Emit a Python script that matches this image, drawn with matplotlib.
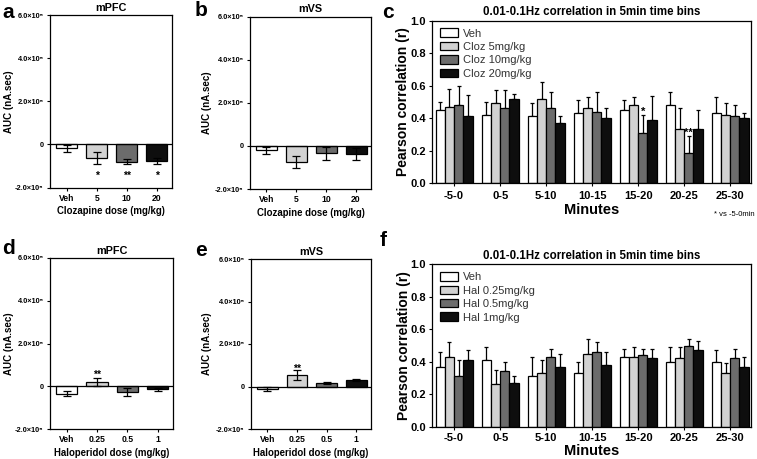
import matplotlib
matplotlib.use("Agg")
import matplotlib.pyplot as plt
import matplotlib.transforms as mtransforms
import numpy as np

# ---- data (AUC values in units of 1e5 nA.sec) ----
cloz_doses = ["Veh", "5", "10", "20"]
hal_doses = ["Veh", "0.25", "0.5", "1"]

mpfc_cloz = [-0.19, -0.64, -0.80, -0.77]
mpfc_cloz_err = [0.15, 0.28, 0.13, 0.16]
mvs_cloz = [-0.21, -0.73, -0.34, -0.37]
mvs_cloz_err = [0.15, 0.28, 0.31, 0.29]

mpfc_hal = [-0.34, 0.20, -0.27, -0.15]
mpfc_hal_err = [0.12, 0.18, 0.20, 0.07]
mvs_hal = [-0.12, 0.54, 0.17, 0.30]
mvs_hal_err = [0.08, 0.25, 0.05, 0.05]

auc_ticks = [-2, 0, 2, 4, 6]
auc_ticklabels = ["-2.0\u00d710\u2075", "0", "2.0\u00d710\u2075", "4.0\u00d710\u2075", "6.0\u00d710\u2075"]

# ---- correlation in 5 min bins ----
time_bins = ["-5-0", "0-5", "5-10", "10-15", "15-20", "20-25", "25-30"]

cloz_labels = ["Veh", "Cloz 5mg/kg", "Cloz 10mg/kg", "Cloz 20mg/kg"]
cloz_corr = [
    [0.45, 0.42, 0.41, 0.43, 0.45, 0.48, 0.43],
    [0.47, 0.49, 0.52, 0.46, 0.48, 0.33, 0.42],
    [0.48, 0.46, 0.46, 0.44, 0.31, 0.185, 0.41],
    [0.41, 0.52, 0.37, 0.40, 0.39, 0.33, 0.40],
]
cloz_corr_err = [
    [0.05, 0.08, 0.08, 0.08, 0.06, 0.08, 0.10],
    [0.11, 0.08, 0.10, 0.07, 0.05, 0.13, 0.07],
    [0.12, 0.11, 0.10, 0.12, 0.11, 0.105, 0.07],
    [0.13, 0.03, 0.04, 0.06, 0.145, 0.12, 0.03],
]

hal_labels = ["Veh", "Hal 0.25mg/kg", "Hal 0.5mg/kg", "Hal 1mg/kg"]
hal_corr = [
    [0.37, 0.41, 0.31, 0.33, 0.43, 0.40, 0.40],
    [0.43, 0.26, 0.33, 0.45, 0.43, 0.42, 0.33],
    [0.31, 0.34, 0.43, 0.46, 0.44, 0.50, 0.42],
    [0.41, 0.27, 0.37, 0.38, 0.42, 0.47, 0.37],
]
hal_corr_err = [
    [0.09, 0.08, 0.12, 0.07, 0.05, 0.09, 0.07],
    [0.09, 0.09, 0.08, 0.09, 0.06, 0.07, 0.06],
    [0.10, 0.06, 0.05, 0.06, 0.04, 0.04, 0.06],
    [0.06, 0.04, 0.08, 0.08, 0.06, 0.06, 0.06],
]

colors = ["white", "#d2d2d2", "#6c6c6c", "#0e0e0e"]

plt.rcParams["font.family"] = ["Liberation Sans", "DejaVu Sans"]
plt.rcParams["font.weight"] = "bold"
plt.rcParams["axes.labelweight"] = "bold"

W, H = 757, 459
fig = plt.figure(figsize=(W / 100, H / 100), dpi=100)


def add_ax(l, t, r, b):
    return fig.add_axes([l / W, 1 - b / H, (r - l) / W, (b - t) / H])


def place_ylabel(ax, px):
    tr = mtransforms.blended_transform_factory(fig.transFigure, ax.transAxes)
    ax.yaxis.set_label_coords(px / W, 0.5, transform=tr)


def style(ax, lw=0.9):
    for s in ax.spines.values():
        s.set_linewidth(lw)
    ax.tick_params(direction="out", length=2.5, width=0.8, pad=2)


def auc_panel(ax, doses, vals, errs, title, xlabel, ylab_x):
    x = np.arange(len(doses))
    ax.bar(x, vals, width=0.7, color=colors, edgecolor="black", linewidth=0.9,
           yerr=errs, capsize=3, error_kw=dict(elinewidth=0.9, capthick=0.9), zorder=2)
    ax.axhline(0, color="black", lw=0.9, zorder=3)
    ax.set_xlim(-0.55, 3.5)
    ax.set_ylim(-2, 6)
    ax.set_yticks(auc_ticks)
    ax.set_yticklabels(auc_ticklabels, fontsize=5.3)
    ax.set_xticks(x)
    ax.set_xticklabels(doses, fontsize=6.2)
    ax.set_title(title, fontsize=7.8, fontweight="bold", pad=3)
    ax.set_xlabel(xlabel, fontsize=6.9, labelpad=2.5)
    ax.set_ylabel("AUC (nA.sec)", fontsize=7)
    place_ylabel(ax, ylab_x)
    style(ax)


def corr_panel(ax, labels, vals, errs, ylab_x):
    x = np.arange(len(time_bins))
    w = 0.2
    for i in range(4):
        xi = x + (i - 1.5) * w
        ax.bar(xi, vals[i], width=w, color=colors[i], edgecolor="black", linewidth=0.9,
               label=labels[i], zorder=2)
        ax.errorbar(xi, vals[i], yerr=[np.zeros(len(x)), errs[i]], fmt="none",
                    ecolor="black", elinewidth=0.9, capsize=1.5, capthick=0.9, zorder=1)
    ax.set_xlim(-0.48, 6.45)
    ax.set_ylim(0, 1.0)
    ax.set_yticks([0, 0.2, 0.4, 0.6, 0.8, 1.0])
    ax.set_yticklabels(["0.0", "0.2", "0.4", "0.6", "0.8", "1.0"], fontsize=8)
    ax.set_xticks(x)
    ax.set_xticklabels(time_bins, fontsize=8)
    ax.set_xlabel("Minutes", fontsize=10.5, labelpad=1)
    ax.set_ylabel("Pearson correlation (r)", fontsize=10)
    place_ylabel(ax, ylab_x)
    ax.set_title("0.01-0.1Hz correlation in 5min time bins", fontsize=8.3,
                 fontweight="bold", pad=4)
    leg = ax.legend(loc="upper left", frameon=False, handlelength=1.6,
                    handleheight=0.8, labelspacing=0.3, handletextpad=0.5,
                    borderaxespad=0.3, prop=dict(size=8, weight="normal"))
    for t in leg.get_texts():
        t.set_color("#333333")
    style(ax)
    return x, w


# ---- panel a ----
ax_a = add_ax(50, 15, 172, 187.5)
auc_panel(ax_a, cloz_doses, mpfc_cloz, mpfc_cloz_err, "mPFC", "Clozapine dose (mg/kg)", 14.5)
for xi, s in zip([1, 2, 3], ["*", "**", "*"]):
    ax_a.text(xi, -1.45, s, ha="center", va="center", fontsize=7.5)

# ---- panel b ----
ax_b = add_ax(250, 16.5, 371, 189)
auc_panel(ax_b, cloz_doses, mvs_cloz, mvs_cloz_err, "mVS", "Clozapine dose (mg/kg)", 211.5)

# ---- panel d ----
ax_d = add_ax(50, 258, 173, 429)
auc_panel(ax_d, hal_doses, mpfc_hal, mpfc_hal_err, "mPFC", "Haloperidol dose (mg/kg)", 14.5)
ax_d.text(1, 0.52, "**", ha="center", va="center", fontsize=7.5)

# ---- panel e ----
ax_e = add_ax(251, 259, 371, 429)
auc_panel(ax_e, hal_doses, mvs_hal, mvs_hal_err, "mVS", "Haloperidol dose (mg/kg)", 211.5)
ax_e.text(1, 0.82, "**", ha="center", va="center", fontsize=7.5)

# ---- panel c ----
ax_c = add_ax(432, 20.7, 751, 183)
x, w = corr_panel(ax_c, cloz_labels, cloz_corr, cloz_corr_err, 410)
ax_c.tick_params(axis="x", pad=3.5)
ax_c.text(4 + 0.5 * w, 0.44, "*", ha="center", va="center", fontsize=8)
ax_c.text(5 + 0.5 * w, 0.31, "**", ha="center", va="center", fontsize=8)
fig.text(755 / W, 1 - 215 / H, "* vs -5-0min", ha="right", va="center",
         fontsize=5.5, fontweight="normal")

# ---- panel f ----
ax_f = add_ax(432, 264.3, 751, 426.7)
corr_panel(ax_f, hal_labels, hal_corr, hal_corr_err, 411)

# ---- panel letters ----
for (px, py), letter in zip([(2, 12), (195, 10), (382, 12), (2, 248), (195, 250), (380, 240)],
                            "abcdef"):
    fig.text(px / W, 1 - py / H, letter, fontsize=15, fontweight="bold",
             ha="left", va="center")

fig.savefig("out.png", dpi=100)
